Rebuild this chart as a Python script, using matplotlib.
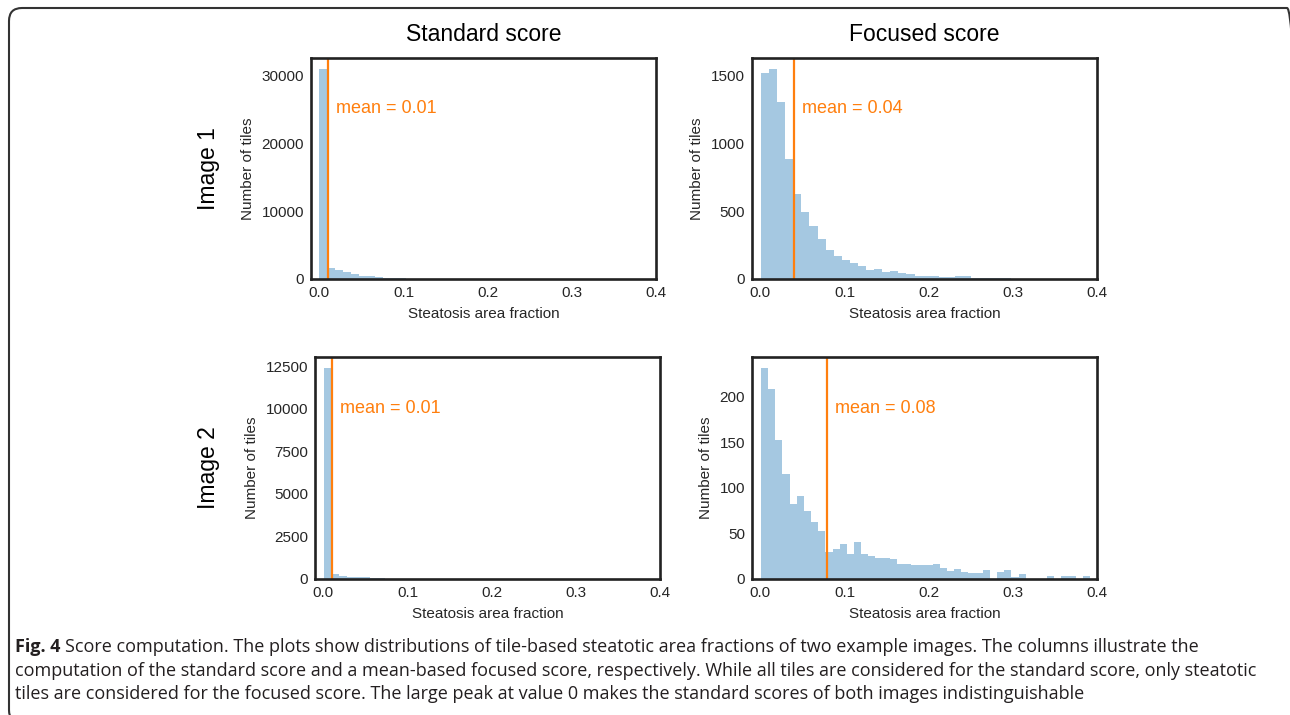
import matplotlib
matplotlib.use('Agg')
import matplotlib.pyplot as plt
import numpy as np
from matplotlib.patches import FancyBboxPatch
from matplotlib.ticker import MultipleLocator
from matplotlib.transforms import IdentityTransform, blended_transform_factory

plt.rcParams['font.family'] = ['Liberation Sans', 'DejaVu Sans']

col_titles = ['Standard score', 'Focused score']
row_titles = ['Image 1', 'Image 2']

# histogram bins: first edge, bin width, count per bin
std1_start, std1_width = 0.0, 0.0094
std1_counts = [31050, 1580, 1380, 990, 690, 490, 390, 250, 200, 150,
               100, 70, 50, 30, 20, 15, 10, 8, 5, 3]
foc1_start, foc1_width = 0.0008, 0.0096
foc1_counts = [1517, 1549, 1300, 884, 626, 495, 389, 293, 212, 170,
               143, 118, 94, 64, 74, 54, 57, 42, 39, 25,
               20, 22, 17, 15, 20, 20, 10, 7, 5, 5,
               6, 3, 2, 1, 1]
std2_start, std2_width = 0.0008, 0.0091
std2_counts = [12410, 275, 180, 140, 118, 100, 80, 40, 20, 10]
foc2_start, foc2_width = 0.0008, 0.0085
foc2_counts = [232, 208, 152, 115, 82, 91, 75, 63, 53, 30,
               33, 38, 27, 41, 27, 25, 23, 23, 22, 16,
               17, 15, 15, 15, 17, 12, 9, 11, 8, 7,
               7, 10, 0, 8, 10, 2, 5, 0, 0, 0,
               3, 0, 3, 3, 0, 3]
means = [0.0107, 0.0402, 0.0107, 0.0796]

panels = [(std1_start, std1_width, std1_counts),
          (foc1_start, foc1_width, foc1_counts),
          (std2_start, std2_width, std2_counts),
          (foc2_start, foc2_width, foc2_counts)]
ytick_steps = [10000, 500, 2500, 50]

W, H = 1290, 715
fig = plt.figure(figsize=(W / 100, H / 100), dpi=100)

# axes boxes in pixels (left, top, right, bottom)
boxes = [(311, 58, 656, 279), (752, 58, 1097, 279),
         (315, 357, 660, 579), (752, 357, 1097, 579)]

blue = '#1f77b4'
orange = '#ff7f0e'
dark = '#262626'

for i, ((start, width, counts), (l, t, r, b)) in enumerate(zip(panels, boxes)):
    ax = fig.add_axes([l / W, 1 - b / H, (r - l) / W, (b - t) / H])
    counts = np.array(counts, dtype=float)
    edges = start + width * np.arange(len(counts) + 1)
    ax.hist(edges[:-1], bins=edges, weights=counts, color=blue, alpha=0.4,
            histtype='stepfilled', linewidth=0)
    ax.set_xlim(-0.0099, 0.4)
    ax.set_ylim(0, counts.max() * 1.05)
    ax.axvline(means[i], color=orange, lw=1.6)
    trans = blended_transform_factory(ax.transData, ax.transAxes)
    ax.text(means[i] + 0.0095, 0.77, f'mean = {means[i]:.2f}', color=orange,
            fontsize=13, va='center', ha='left', transform=trans)

    ax.set_xticks([0.0, 0.1, 0.2, 0.3, 0.4])
    ax.set_xticklabels(['0.0', '0.1', '0.2', '0.3', '0.4'])
    ax.yaxis.set_major_locator(MultipleLocator(ytick_steps[i]))
    ax.tick_params(length=0, labelsize=11, colors=dark, pad=5)
    for s in ax.spines.values():
        s.set_linewidth(1.9)
        s.set_color('#222222')
    ax.set_xlabel('Steatosis area fraction', fontsize=11, color=dark, labelpad=5)
    ax.set_ylabel('Number of tiles', fontsize=11, color=dark, labelpad=5)
    if i < 2:
        ax.set_title(col_titles[i], fontsize=16.5, pad=12)

for name, yc in zip(row_titles, [168.5, 468]):
    fig.text(209 / W, 1 - yc / H, name, rotation=90, fontsize=16.5,
             ha='center', va='center')

# rounded frame around the figure panel (right and bottom run off the page)
frame = FancyBboxPatch((9, -8), 1300 - 9, 707 + 8,
                       boxstyle='round,pad=0,rounding_size=13',
                       fill=False, edgecolor='#333333', lw=1.5,
                       transform=IdentityTransform())
fig.add_artist(frame)

# caption
cap_font = ['Open Sans', 'DejaVu Sans']
cap_lines = [
    'Score computation. The plots show distributions of tile-based steatotic area fractions of two example images. The columns illustrate the',
    'computation of the standard score and a mean-based focused score, respectively. While all tiles are considered for the standard score, only steatotic',
    'tiles are considered for the focused score. The large peak at value 0 makes the standard scores of both images indistinguishable',
]
cap_size = 13.0
cap_color = '#231f20'
renderer = fig.canvas.get_renderer()
lab = fig.text(15 / W, 1 - 652 / H, 'Fig. 4', fontsize=cap_size, family=cap_font,
               weight='bold', color=cap_color, va='baseline', ha='left')
bb = lab.get_window_extent(renderer)
fig.text((bb.x1 + 5) / W, 1 - 652 / H, cap_lines[0], fontsize=cap_size,
         family=cap_font, color=cap_color, va='baseline', ha='left')
for k, yb in zip([1, 2], [676, 699]):
    fig.text(15 / W, 1 - yb / H, cap_lines[k], fontsize=cap_size,
             family=cap_font, color=cap_color, va='baseline', ha='left')

fig.savefig('out.png', dpi=100)
